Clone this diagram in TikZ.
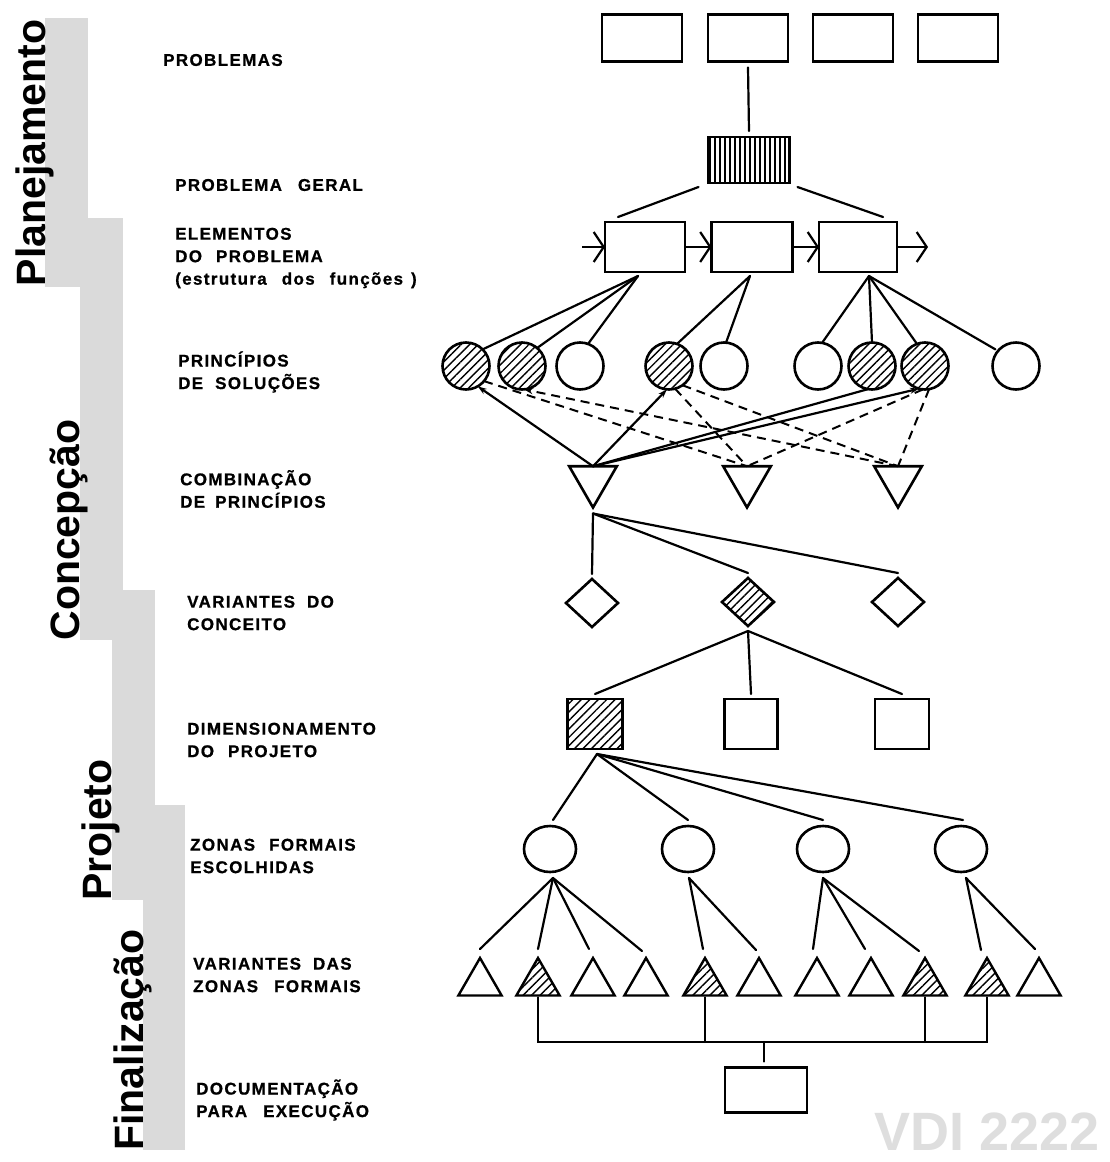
\documentclass[tikz,border=0pt]{standalone}
\usepackage{fontspec}
\setmainfont{Liberation Sans}
\newfontfamily\labfont{Liberation Sans}[LetterSpace=8,BoldFeatures={FakeBold=0.8}]
\newfontfamily\bigfont{Liberation Sans}
\usetikzlibrary{shapes.geometric,arrows.meta,patterns.meta}
\definecolor{barg}{RGB}{218,218,218}
\definecolor{wmk}{RGB}{222,222,222}
\begin{document}
\begin{tikzpicture}[x=1pt,y=-1pt,
  ln/.style={line width=2.2pt,line cap=round},
  dsh/.style={line width=2pt,dash pattern=on 9pt off 6pt},
  tip/.style={-{Stealth[length=9pt,width=6pt]}},
  arr/.style={line width=2.2pt,-{Straight Barb[length=10pt,width=30pt]}},
  bx/.style={draw,line width=2.8pt,inner sep=0pt,outer sep=0pt},
  hatch/.style={pattern={Lines[angle=45,distance=6pt,line width=1.4pt]}},
  vhatch/.style={pattern={Lines[angle=90,distance=5pt,line width=1.6pt]}},
  crc/.style={draw,line width=2.6pt,circle,minimum size=47pt,inner sep=0pt,outer sep=0pt},
  zc/.style={draw,line width=2.6pt,ellipse,minimum width=52pt,minimum height=46pt,inner sep=0pt,outer sep=0pt},
  dtri/.style={draw,line width=2.6pt,regular polygon,regular polygon sides=3,shape border rotate=180,minimum size=55pt,inner sep=0pt,outer sep=0pt},
  utri/.style={draw,line width=2.4pt,regular polygon,regular polygon sides=3,minimum size=50pt,inner sep=0pt,outer sep=0pt},
  dia/.style={draw,line width=2.6pt,diamond,minimum width=52pt,minimum height=48pt,inner sep=0pt,outer sep=0pt},
  lab/.style={anchor=west,align=left,inner sep=0pt,font=\labfont\bfseries\fontsize{17}{22.5}\selectfont},
  big/.style={rotate=90,anchor=base,inner sep=0pt,font=\bigfont\bfseries\fontsize{41}{41}\selectfont}
]
\useasboundingbox (0,0) rectangle (1110,1162);
% gray phase bars
\fill[barg] (45,18) rectangle (88,287);
\fill[barg] (80,218) rectangle (123,640);
\fill[barg] (112,590) rectangle (155,900);
\fill[barg] (143,805) rectangle (185,1150);
\node[big] (nPl) at (45,153) {Planejamento};
\node[big] (nCo) at (79,530) {Concepção};
\node[big] (nPr) at (111,830) {Projeto};
\node[big] (nFi) at (143,1040) {Finalização};
% watermark
\node[anchor=base east,inner sep=0pt,text=wmk,font=\bigfont\bfseries\fontsize{54}{54}\selectfont] (wm) at (1100,1150) {VDI 2222};
% labels
\node[lab] (lP) at (163,60) {PROBLEMAS};
\node[lab] (lG) at (175,185) {PROBLEMA\hspace{16pt}GERAL};
\node[lab] (lE) at (175,258) {ELEMENTOS\\DO\hspace{14pt}PROBLEMA\\(estrutura\hspace{15pt}dos\hspace{15pt}funções\hspace{8pt})};
\node[lab] (lS) at (178,372) {PRINCÍPIOS\\DE\hspace{12pt}SOLUÇÕES};
\node[lab] (lC) at (180,489) {COMBINAÇÃO\\DE\hspace{10pt}PRINCÍPIOS};
\node[lab] (lV) at (187,613) {VARIANTES\hspace{12pt}DO\\CONCEITO};
\node[lab] (lD) at (187,740) {DIMENSIONAMENTO\\DO\hspace{14pt}PROJETO};
\node[lab] (lZ) at (190,856) {ZONAS\hspace{14pt}FORMAIS\\ESCOLHIDAS};
\node[lab] (lW) at (193,975) {VARIANTES\hspace{12pt}DAS\\ZONAS\hspace{16pt}FORMAIS};
\node[lab] (lX) at (196,1100) {DOCUMENTAÇÃO\\PARA\hspace{16pt}EXECUÇÃO};
% problems
\node[bx,minimum width=80pt,minimum height=47pt] (p1) at (642,38) {};
\node[bx,minimum width=80pt,minimum height=47pt] (p2) at (748,38) {};
\node[bx,minimum width=80pt,minimum height=47pt] (p3) at (853,38) {};
\node[bx,minimum width=80pt,minimum height=47pt] (p4) at (958,38) {};
\node[bx,vhatch,minimum width=81pt,minimum height=46pt] (g) at (749,160) {};
% elements
\node[bx,minimum width=80pt,minimum height=50pt] (e1) at (645,247) {};
\node[bx,minimum width=81pt,minimum height=50pt] (e2) at (752,247) {};
\node[bx,minimum width=78pt,minimum height=50pt] (e3) at (858,247) {};
\coordinate (ain) at (582,247);
\coordinate (aout) at (928,247);
% principles
\node[crc,hatch] (c1) at (466,366) {};
\node[crc,hatch] (c2) at (522,366) {};
\node[crc] (c3) at (580,366) {};
\node[crc,hatch] (c4) at (669,366) {};
\node[crc] (c5) at (724,366) {};
\node[crc] (c6) at (818,366) {};
\node[crc,hatch] (c7) at (872,366) {};
\node[crc,hatch] (c8) at (925,366) {};
\node[crc] (c9) at (1016,366) {};
% combinations
\node[dtri] (t1) at (593,480) {};
\node[dtri] (t2) at (747,480) {};
\node[dtri] (t3) at (898,480) {};
% concept variants
\node[dia] (d1) at (592,603) {};
\node[dia,hatch] (d2) at (748,602) {};
\node[dia] (d3) at (898,602) {};
% dimensioning
\node[bx,hatch,minimum width=55pt,minimum height=50pt] (s1) at (595,724) {};
\node[bx,minimum width=53pt,minimum height=50pt] (s2) at (751,724) {};
\node[bx,minimum width=54pt,minimum height=50pt] (s3) at (902,724) {};
% form zones
\node[zc] (z1) at (550,849) {};
\node[zc] (z2) at (688,849) {};
\node[zc] (z3) at (823,849) {};
\node[zc] (z4) at (961,849) {};
% form zone variants
\node[utri] (v1) at (480,983) {};
\node[utri,hatch] (v2) at (538,983) {};
\node[utri] (v3) at (593,983) {};
\node[utri] (v4) at (646,983) {};
\node[utri,hatch] (v5) at (705,983) {};
\node[utri] (v6) at (759,983) {};
\node[utri] (v7) at (817,983) {};
\node[utri] (v8) at (871,983) {};
\node[utri,hatch] (v9) at (925,983) {};
\node[utri,hatch] (v10) at (987,983) {};
\node[utri] (v11) at (1039,983) {};
% documentation
\node[bx,minimum width=82pt,minimum height=45pt] (doc) at (766,1090) {};
% ---- connectors
\draw[ln] ([shift={(0,6)}]p2.south) -- ([shift={(0,-6)}]g.north);
\draw[ln] ([shift={(-10,4)}]g.south west) -- ([shift={(13,-5)}]e1.north west);
\draw[ln] ([shift={(8,4)}]g.south east) -- ([shift={(-14,-5)}]e3.north east);
\draw[arr] (ain) -- (e1);
\draw[arr] (e1) -- (e2);
\draw[arr] (e2) -- (e3);
\draw[arr] (e3) -- (aout);
\coordinate (k1) at ([shift={(-7,4)}]e1.south);
\coordinate (k2) at ([shift={(-2,4)}]e2.south);
\coordinate (k3) at ([shift={(11,4)}]e3.south);
\draw[ln] (k1) -- (c1.45);
\draw[ln] (k1) -- (c2.50);
\draw[ln] (k1) -- (c3.70);
\draw[ln] (k2) -- (c4.70);
\draw[ln] (k2) -- (c5.85);
\draw[ln] (k3) -- (c6.80);
\draw[ln] (k3) -- (c7.90);
\draw[ln] (k3) -- (c8.110);
\draw[ln,shorten >=3pt] (k3) -- (c9.140);
% principles -> combinations
\draw[ln,tip] (t1.north) -- (c1.-60);
\draw[ln,tip] (t1.north) -- (c4.-95);
\draw[ln] (t1.north) -- (c7.-100);
\draw[ln,tip] (t1.north) -- (c8.-105);
\draw[dsh] (c1.-40) -- (t2.north);
\draw[dsh,tip] (t3.north) -- (c2.-85);
\draw[dsh] (c4.-75) -- (t2.north);
\draw[dsh] (c4.-55) -- (t3.north);
\draw[dsh] (c8.-95) -- (t2.north);
\draw[dsh] (c8.-80) -- (t3.north);
% combination -> concept variants
\coordinate (kt) at ([shift={(0,6)}]t1.south);
\draw[ln] (kt) -- ([shift={(0,-5)}]d1.north);
\draw[ln] (kt) -- ([shift={(0,-5)}]d2.north);
\draw[ln] (kt) -- ([shift={(0,-5)}]d3.north);
% concept -> dimensioning
\coordinate (kd) at ([shift={(0,5)}]d2.south);
\draw[ln] (kd) -- ([shift={(0,-5)}]s1.north);
\draw[ln] (kd) -- ([shift={(0,-5)}]s2.north);
\draw[ln] (kd) -- ([shift={(0,-5)}]s3.north);
% dimensioning -> zones
\coordinate (ks) at ([shift={(2,5)}]s1.south);
\draw[ln] (ks) -- ([shift={(3,-6)}]z1.north);
\draw[ln] (ks) -- ([shift={(0,-6)}]z2.north);
\draw[ln] (ks) -- ([shift={(0,-6)}]z3.north);
\draw[ln] (ks) -- ([shift={(2,-6)}]z4.north);
% zones -> variants
\coordinate (kz1) at ([shift={(3,6)}]z1.south);
\coordinate (kz2) at ([shift={(1,6)}]z2.south);
\coordinate (kz3) at ([shift={(0,6)}]z3.south);
\coordinate (kz4) at ([shift={(5,6)}]z4.south);
\draw[ln] (kz1) -- ([shift={(0,-9)}]v1.north);
\draw[ln] (kz1) -- ([shift={(0,-9)}]v2.north);
\draw[ln] (kz1) -- ([shift={(-4,-9)}]v3.north);
\draw[ln] (kz1) -- ([shift={(-4,-7)}]v4.north);
\draw[ln] (kz2) -- ([shift={(-2,-9)}]v5.north);
\draw[ln] (kz2) -- ([shift={(-3,-8)}]v6.north);
\draw[ln] (kz3) -- ([shift={(-4,-9)}]v7.north);
\draw[ln] (kz3) -- ([shift={(-6,-9)}]v8.north);
\draw[ln] (kz3) -- ([shift={(-6,-7)}]v9.north);
\draw[ln] (kz4) -- ([shift={(-6,-8)}]v10.north);
\draw[ln] (kz4) -- ([shift={(-4,-9)}]v11.north);
% bracket
\coordinate (bm) at (764,1042);
\draw[ln] ([shift={(0,2)}]v2.south) -- (v2.south |- bm) -- (v10.south |- bm) -- ([shift={(0,2)}]v10.south);
\draw[ln] ([shift={(0,2)}]v5.south) -- (v5.south |- bm);
\draw[ln] ([shift={(0,2)}]v9.south) -- (v9.south |- bm);
\draw[ln] (bm) -- ([shift={(-2,-6)}]doc.north);
\end{tikzpicture}
\end{document}
